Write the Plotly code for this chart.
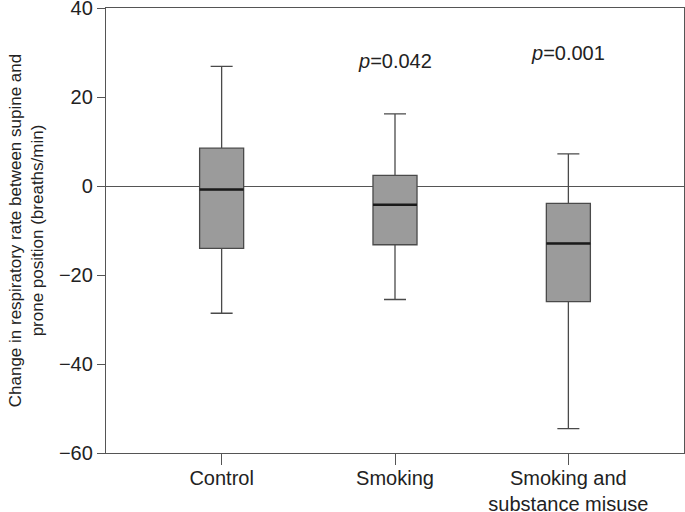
import plotly.graph_objects as go

categories = ["Control", "Smoking", "Smoking and<br>substance misuse"]
lower_whisker = [-28.6, -25.5, -54.5]
q1_vals = [-14.0, -13.2, -26.0]
median_vals = [-0.8, -4.2, -12.9]
q3_vals = [8.5, 2.4, -3.9]
upper_whisker = [26.9, 16.2, 7.2]
p_labels = ["", "<i>p</i>=0.042", "<i>p</i>=0.001"]
p_y = [None, 28.2, 29.8]

xpos = list(range(len(categories)))
box_w = 0.254

fig = go.Figure()
for i in xpos:
    fig.add_trace(go.Box(
        x=[i], q1=[q1_vals[i]], median=[median_vals[i]], q3=[q3_vals[i]],
        lowerfence=[lower_whisker[i]], upperfence=[upper_whisker[i]],
        width=box_w, whiskerwidth=0.5,
        fillcolor="#9b9b9b", line=dict(color="#4a4a4a", width=1.3),
        boxpoints=False, showlegend=False, hoverinfo="skip",
    ))
    fig.add_shape(type="line", xref="x", yref="y",
                  x0=i - box_w / 2, x1=i + box_w / 2,
                  y0=median_vals[i], y1=median_vals[i],
                  line=dict(color="#1a1a1a", width=2.5))
    if p_labels[i]:
        fig.add_annotation(x=i, y=p_y[i], xref="x", yref="y", text=p_labels[i],
                           showarrow=False,
                           font=dict(family="Liberation Sans, Arial", size=20, color="#222"))

fig.update_layout(
    width=685, height=512,
    margin=dict(l=106, r=1, t=8, b=59),
    plot_bgcolor="white", paper_bgcolor="white",
    font=dict(family="Liberation Sans, Arial", size=20, color="#222"),
    xaxis=dict(range=[-0.667, 2.667], tickvals=xpos, ticktext=categories,
               showline=True, linecolor="#555", linewidth=1.3, mirror=True,
               ticks="outside", ticklen=11, tickcolor="#555", tickwidth=1.3,
               showgrid=False, zeroline=False, tickfont=dict(size=20),
               automargin=False, ticklabeloverflow="allow", ticklabelstandoff=-4),
    yaxis=dict(range=[-60, 40], tickvals=[-60, -40, -20, 0, 20, 40],
               showline=True, linecolor="#555", linewidth=1.3, mirror=True,
               ticks="outside", ticklen=8, tickcolor="#555", tickwidth=1.3,
               showgrid=False, zeroline=True, zerolinecolor="#555", zerolinewidth=1.3,
               tickfont=dict(size=20), automargin=False, ticklabeloverflow="allow",
               title=dict(text="Change in respiratory rate between supine and<br>prone position (breaths/min)",
                          font=dict(size=17), standoff=10)),
)

fig.write_html("out.html", config={"displayModeBar": False},
               post_script="document.body.style.margin='0px';")
